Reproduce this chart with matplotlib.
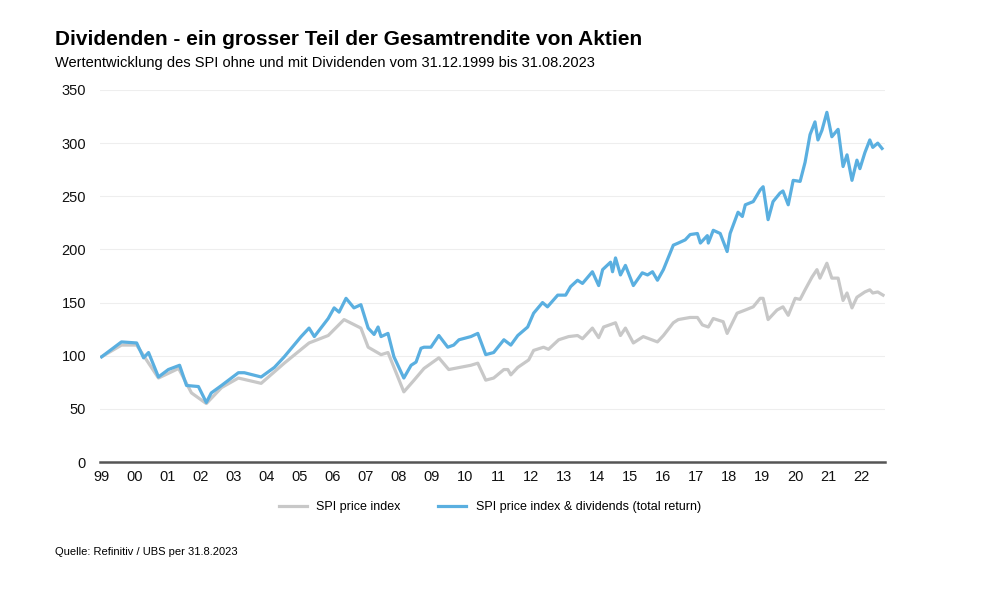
import matplotlib
matplotlib.use("Agg")
import matplotlib.pyplot as plt
from matplotlib.lines import Line2D

plt.rcParams['font.family'] = ['Liberation Sans', 'DejaVu Sans']

tick_labels = ['99','00','01','02','03','04','05','06','07','08','09','10','11','12','13','14','15','16','17','18','19','20','21','22']

tr_x = [0,0.60,1.06,1.27,1.42,1.72,2.02,2.36,2.57,2.93,3.17,3.32,3.63,4.14,4.32,4.83,5.23,5.53,6.04,6.28,6.44,6.86,7.04,7.19,7.40,7.64,7.85,8.07,8.25,8.37,8.46,8.67,8.85,9.15,9.37,9.52,9.67,9.76,9.97,10.21,10.48,10.66,10.82,11.18,11.39,11.63,11.87,12.18,12.39,12.60,12.90,13.08,13.35,13.50,13.81,14.05,14.20,14.41,14.56,14.86,15.05,15.17,15.41,15.47,15.56,15.71,15.86,16.10,16.37,16.53,16.68,16.83,17.01,17.31,17.46,17.67,17.82,18.04,18.13,18.34,18.37,18.52,18.73,18.94,19.03,19.27,19.40,19.49,19.73,19.94,20.03,20.18,20.33,20.54,20.63,20.79,20.94,21.15,21.30,21.45,21.60,21.69,21.81,21.96,22.11,22.27,22.30,22.45,22.57,22.72,22.87,22.96,23.11,23.26,23.35,23.50,23.63]
tr_v = [99,113,112,98,103,80,87,91,72,71,56,65,72,84,84,80,89,99,118,126,118,135,145,141,154,145,148,126,120,127,118,121,99,79,91,94,107,108,108,119,108,110,115,118,121,101,103,115,110,119,127,140,150,146,157,157,165,171,168,179,166,181,188,179,192,176,185,166,178,176,179,171,181,204,206,209,214,215,206,213,206,218,215,198,215,235,231,242,245,256,259,228,245,253,255,242,265,264,282,308,320,303,312,329,306,312,313,278,289,265,284,276,291,303,296,300,295]

pr_x = [0,0.60,1.06,1.72,2.33,2.72,3.17,3.63,4.14,4.83,5.53,6.28,6.86,7.34,7.85,8.07,8.46,8.67,9.15,9.46,9.76,10.21,10.51,11.18,11.39,11.63,11.87,12.18,12.30,12.39,12.60,12.93,13.08,13.38,13.53,13.84,14.14,14.41,14.56,14.86,15.05,15.20,15.56,15.71,15.86,16.10,16.40,16.83,17.01,17.31,17.46,17.82,18.04,18.19,18.37,18.52,18.82,18.94,19.24,19.49,19.73,19.94,20.03,20.18,20.45,20.63,20.79,21.00,21.15,21.30,21.51,21.66,21.75,21.96,22.11,22.30,22.45,22.57,22.72,22.87,23.11,23.26,23.35,23.50,23.66]
pr_v = [99,110,110,79,88,65,55,70,79,74,93,112,119,134,126,108,101,103,66,77,88,98,87,91,93,77,79,87,87,82,89,96,105,108,106,115,118,119,116,126,117,127,131,119,126,112,118,113,119,131,134,136,136,129,127,135,132,121,140,143,146,154,154,134,143,146,138,154,153,162,174,181,173,187,173,173,152,159,145,155,160,162,159,160,157]

fig = plt.figure(figsize=(10, 6), dpi=100)
ax = fig.add_axes([0.10, 0.23, 0.785, 0.62])
ax.plot(pr_x, pr_v, color='#c8c8c8', lw=2.3, label='SPI price index')
ax.plot(tr_x, tr_v, color='#5aafe0', lw=2.3, label='SPI price index & dividends (total return)')
ax.set_xlim(-0.05, 23.72)
ax.set_ylim(0, 350)
ax.set_yticks(range(0, 351, 50))
ax.set_xticks(range(len(tick_labels)))
ax.set_xticklabels(tick_labels)
ax.grid(axis='y', color='#eeeeee', lw=0.8)
ax.set_axisbelow(True)
for s in ['top', 'right', 'left']:
    ax.spines[s].set_visible(False)
ax.spines['bottom'].set_color('#555555')
ax.spines['bottom'].set_linewidth(1.8)
ax.tick_params(axis='both', length=0, labelsize=10.5, colors='#111111')
ax.tick_params(axis='y', pad=10)
ax.tick_params(axis='x', pad=6)

fig.text(0.055, 0.925, 'Dividenden - ein grosser Teil der Gesamtrendite von Aktien', fontsize=15, fontweight='bold')
fig.text(0.055, 0.888, 'Wertentwicklung des SPI ohne und mit Dividenden vom 31.12.1999 bis 31.08.2023', fontsize=10.5)
fig.text(0.055, 0.075, 'Quelle: Refinitiv / UBS per 31.8.2023', fontsize=8)

fig.legend(handles=ax.get_lines(), loc='center', bbox_to_anchor=(0.49, 0.155), ncol=2, frameon=False,
           fontsize=9, handlelength=2.2, columnspacing=3)
fig.savefig('out.png', dpi=100)
